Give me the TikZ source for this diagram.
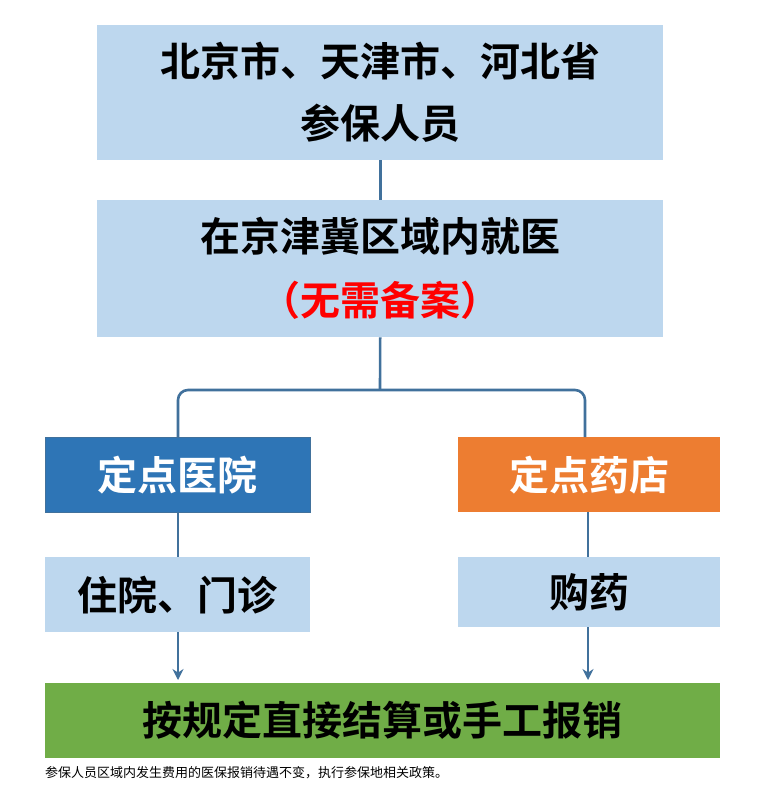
\documentclass[tikz,border=0pt]{standalone}
\usepackage{fontspec}
\newfontfamily\cjk{Noto Sans CJK SC}[BoldFont={* Bold}]
\definecolor{lb}{HTML}{BDD7EE}
\definecolor{db}{HTML}{2E75B6}
\definecolor{og}{HTML}{ED7D31}
\definecolor{gn}{HTML}{70AD47}
\definecolor{ln}{HTML}{41719C}
\usetikzlibrary{arrows.meta}
\begin{document}
\begin{tikzpicture}[x=1pt,y=-1pt,
  bx/.style={fill=lb,draw=none,minimum width=#1,inner sep=0pt},
  conn/.style={draw=ln,line width=2.6pt},
  arr/.style={draw=ln,line width=2.6pt,-{Stealth[length=11pt,width=11pt]}},
  font=\cjk\bfseries]
\useasboundingbox[fill=white] (0,0) rectangle (757,795);
\node[bx=566pt,minimum height=135pt,anchor=north west,align=center,font=\cjk\bfseries\fontsize{40}{62}\selectfont] (a) at (97,25) {北京市、天津市、河北省\\参保人员};
\node[bx=566pt,minimum height=137pt,anchor=north west,align=center,font=\cjk\bfseries\fontsize{40}{64}\selectfont] (b) at (97,200) {在京津冀区域内就医\\\textcolor{red}{（无需备案）}};
\node[fill=db,draw=ln,minimum width=265pt,minimum height=75pt,anchor=north west,text=white,font=\cjk\bfseries\fontsize{40}{44}\selectfont] (c) at (45,437) {定点医院};
\node[fill=og,minimum width=262pt,minimum height=75pt,anchor=north west,text=white,font=\cjk\bfseries\fontsize{40}{44}\selectfont] (d) at (458,437) {定点药店};
\node[bx=265pt,minimum height=75pt,anchor=north west,font=\cjk\bfseries\fontsize{40}{44}\selectfont] (e) at (45,557) {住院、门诊};
\node[bx=262pt,minimum height=70pt,anchor=north west,font=\cjk\bfseries\fontsize{40}{44}\selectfont] (f) at (458,557) {购药};
\node[fill=gn,minimum width=675pt,minimum height=75pt,anchor=north west,font=\cjk\bfseries\fontsize{40}{44}\selectfont] (g) at (45,683) {按规定直接结算或手工报销};
\node[anchor=west,font=\cjk\fontsize{13}{15}\selectfont,inner sep=0pt] (cap) at (45,773) {参保人员区域内发生费用的医保报销待遇不变，执行参保地相关政策。};
\draw[conn] (a.south) -- (b.north);
\coordinate (j) at (380,390);
\draw[conn] (b.south) -- (j);
\draw[conn,rounded corners=10pt] (178,437) -- (178,390) -- (585,390) -- (585,437);
\draw[conn] (178,512) -- (178,557);
\draw[conn] (588,512) -- (588,557);
\draw[arr] (178,632) -- (178,680);
\draw[arr] (588,627) -- (588,680);
\end{tikzpicture}
\end{document}
